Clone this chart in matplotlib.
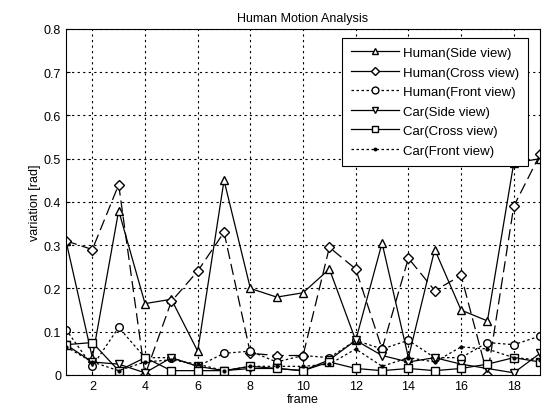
import numpy as np
from matplotlib import pyplot as plt

plt.rcParams['font.family'] = ['Liberation Sans', 'DejaVu Sans']

frames = list(range(1, 20))

human_side = [0.31, 0.04, 0.38, 0.165, 0.175, 0.055, 0.45, 0.20, 0.18, 0.19,
              0.245, 0.08, 0.305, 0.04, 0.29, 0.15, 0.125, 0.49, 0.50]
human_cross = [0.31, 0.29, 0.44, 0.0, 0.17, 0.24, 0.33, 0.05, 0.045, 0.045,
               0.295, 0.245, 0.06, 0.27, 0.195, 0.23, 0.0, 0.39, 0.51]
human_front = [0.105, 0.02, 0.11, 0.04, 0.04, 0.02, 0.05, 0.055, 0.03, 0.045,
               0.04, 0.08, 0.06, 0.08, 0.04, 0.04, 0.075, 0.07, 0.09]
car_side = [0.07, 0.03, 0.025, 0.005, 0.04, 0.02, 0.01, 0.015, 0.015, 0.01,
            0.035, 0.08, 0.045, 0.03, 0.04, 0.025, 0.015, 0.005, 0.05]
car_cross = [0.07, 0.075, 0.01, 0.04, 0.01, 0.01, 0.01, 0.02, 0.015, 0.01,
             0.03, 0.015, 0.01, 0.015, 0.01, 0.015, 0.025, 0.04, 0.03]
car_front = [0.065, 0.03, 0.01, 0.03, 0.035, 0.025, 0.01, 0.02, 0.02, 0.02,
             0.025, 0.06, 0.02, 0.04, 0.03, 0.065, 0.06, 0.04, 0.035]

fig = plt.figure(figsize=(5.5, 4.1), dpi=100)
ax = fig.add_axes([0.12, 0.083, 0.862, 0.844])

mk = dict(color='black', markerfacecolor='white', markersize=5.5, linewidth=0.9)
ax.plot(frames, human_side, '-', marker='^', label='Human(Side view)', **mk)
ax.plot(frames, human_cross, linestyle=(0, (9, 4)), marker='D', markersize=5,
        color='black', markerfacecolor='white', linewidth=0.9, label='Human(Cross view)')
ax.plot(frames, human_front, linestyle=(0, (2, 2)), marker='o', label='Human(Front view)', **mk)
ax.plot(frames, car_side, '-', marker='v', label='Car(Side view)', **mk)
ax.plot(frames, car_cross, '-', marker='s', label='Car(Cross view)', **mk)
ax.plot(frames, car_front, linestyle=(0, (2, 2)), marker='.', color='black',
        markersize=4, linewidth=0.9, label='Car(Front view)')

ax.set_xlim(1, 19)
ax.set_ylim(0, 0.8)
ax.set_xticks(range(2, 19, 2))
ax.set_yticks(np.arange(0, 0.81, 0.1))
ax.set_yticklabels(['0', '0.1', '0.2', '0.3', '0.4', '0.5', '0.6', '0.7', '0.8'])
ax.tick_params(labelsize=9, direction='in', length=3)
ax.grid(True, color='black', linestyle=(0, (2, 3)), linewidth=0.8)

ax.set_title('Human Motion Analysis', fontsize=9, pad=6)
ax.set_xlabel('frame', fontsize=9, labelpad=1)
ax.set_ylabel('variation [rad]', fontsize=9, labelpad=2)

leg = ax.legend(loc='upper right', bbox_to_anchor=(0.975, 0.975), fontsize=9.5,
                frameon=True, fancybox=False, edgecolor='black', framealpha=1,
                borderaxespad=0, borderpad=0.7, handlelength=3.6,
                handletextpad=0.3, labelspacing=0.55, markerscale=0.9)
leg.get_frame().set_linewidth(0.8)
# the reference legend draws the cross-view sample as a solid line
leg.get_lines()[1].set_linestyle('-')

fig.savefig('out.png', dpi=100)
